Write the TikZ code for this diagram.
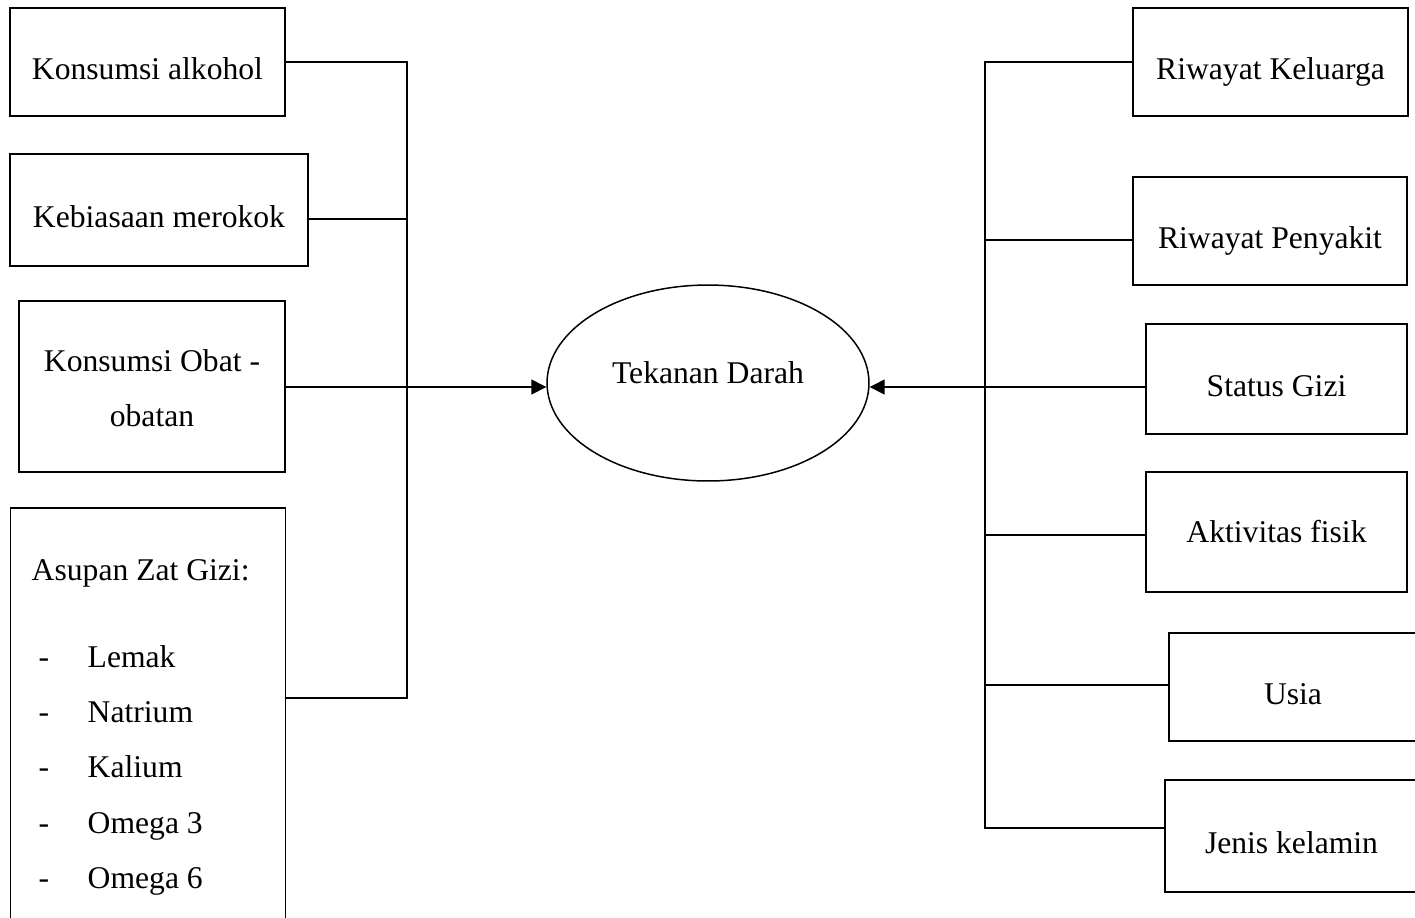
\documentclass[tikz,border=0pt]{standalone}
\usepackage{fontspec}
\setmainfont{Liberation Serif}
\usetikzlibrary{arrows.meta,shapes.geometric}
\newcommand{\butir}[1]{\makebox[1.12cm][l]{\hspace{0.14cm}-}#1}

\begin{document}
\begin{tikzpicture}[x=0.02cm,y=-0.02cm,
   faktor/.style={draw,rectangle,line width=0.85pt,inner sep=0pt,text height=20pt,text depth=0pt,font=\fontsize{18}{31.4}\selectfont},
   garis/.style={line width=0.85pt},
   panah/.style={line width=0.85pt,-{Triangle[length=8.5pt,width=8.5pt]}}]
\useasboundingbox (0,0) rectangle (1415,917);
%
       \node [faktor,minimum width=5.5cm,minimum height=2.16cm] at (147.5,62) (alkohol) {Konsumsi alkohol};
          \node [faktor,minimum width=5.96cm,minimum height=2.24cm] at (159,210) (merokok) {Kebiasaan merokok};
             \node [faktor,align=center,text height=46pt,minimum width=5.32cm,minimum height=3.42cm] at (152,386.5) (obat) {Konsumsi Obat -\\obatan};
              \node [faktor,anchor=north west,align=flush left,text width=4.66cm,inner xsep=0.42cm,inner ysep=0pt,text height=1.46cm,text depth=8cm] at (10,507) (asupan) {\spaceskip=0pt Asupan Zat Gizi:\\[18pt]\butir{Lemak}\\\butir{Natrium}\\\butir{Kalium}\\\butir{Omega 3}\\\butir{Omega 6}};
%
                \node [faktor,minimum width=5.5cm,minimum height=2.16cm] at (1270.5,62) (keluarga) {Riwayat Keluarga};
                 \node [faktor,minimum width=5.48cm,minimum height=2.16cm] at (1270,231) (penyakit) {Riwayat Penyakit};
                  \node [faktor,minimum width=5.22cm,minimum height=2.2cm] at (1276.5,379) (gizi) {Status Gizi};
                   \node [faktor,text height=12.5pt,minimum width=5.22cm,minimum height=2.4cm] at (1276.5,532) (aktivitas) {Aktivitas fisik};
                    \node [faktor,minimum width=4.96cm,minimum height=2.16cm] at (1293,687) (usia) {Usia};
                     \node [faktor,minimum width=5.06cm,minimum height=2.24cm] at (1291.5,836) (jenis) {Jenis kelamin};
%
             \node [ellipse,draw,line width=0.85pt,minimum width=6.44cm,minimum height=3.92cm,inner sep=0pt,text height=10pt,text depth=10pt,font=\fontsize{18}{22}\selectfont] at (708,383) (tekanan) {Tekanan Darah};
%
\coordinate (lb1) at (407,62);
\coordinate (lb2) at (407,219);
\coordinate (lb3) at (407,387);
\coordinate (lb4) at (407,698);
\coordinate (rb1) at (985,62);
\coordinate (rb2) at (985,240);
\coordinate (rb3) at (985,387);
\coordinate (rb4) at (985,535);
\coordinate (rb5) at (985,685);
\coordinate (rb6) at (985,828);
%
\draw[garis] (alkohol.east |- lb1) -- (lb1) -- (lb4) -- (asupan.east |- lb4);
\draw[garis] (merokok.east |- lb2) -- (lb2);
\draw[panah] (obat.east |- lb3) -- (tekanan.west |- lb3);
\draw[garis] (keluarga.west |- rb1) -- (rb1) -- (rb6) -- (jenis.west |- rb6);
\draw[garis] (penyakit.west |- rb2) -- (rb2);
\draw[panah] (gizi.west |- rb3) -- (tekanan.east |- rb3);
\draw[garis] (aktivitas.west |- rb4) -- (rb4);
\draw[garis] (usia.west |- rb5) -- (rb5);

\end{tikzpicture}
\end{document}
